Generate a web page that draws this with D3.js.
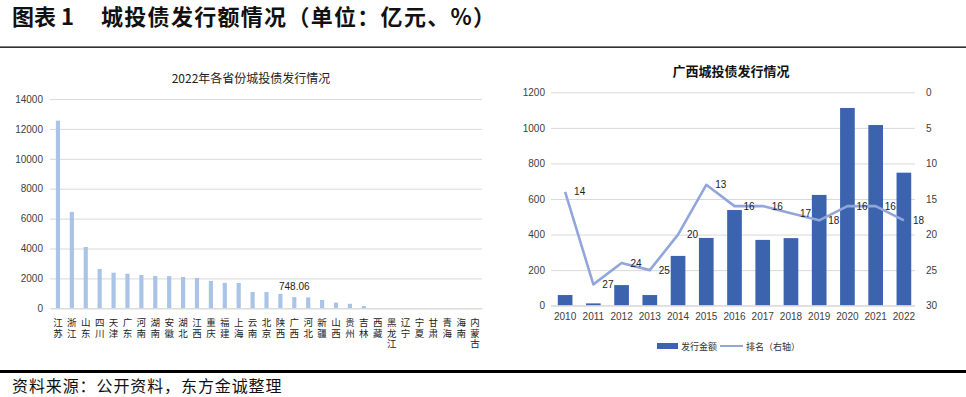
<!DOCTYPE html>
<html><head><meta charset="utf-8">
<script src="https://cdn.jsdelivr.net/npm/d3@7/dist/d3.min.js"></script>
<style>
html,body{margin:0;padding:0;background:#fff;}
svg{display:block;}
text{font-family:"Liberation Sans","Noto Sans CJK SC",sans-serif;}
.cjk{font-family:"Noto Sans CJK SC",sans-serif;}
.vert{writing-mode:vertical-rl;text-orientation:upright;}
</style></head>
<body>
<svg id="c" width="966" height="397"></svg>
<script>
const provinces = ["江苏","浙江","山东","四川","天津","广东","河南","湖南","安徽","湖北","江西","重庆","福建","上海","云南","北京","陕西","广西","河北","新疆","山西","贵州","吉林","西藏","黑龙江","辽宁","宁夏","甘肃","青海","海南","内蒙古"];
const provinceValues = [12550,6450,4100,2630,2380,2315,2230,2160,2150,2095,2030,1830,1700,1690,1090,1085,960,748.06,735,560,380,300,150,0,0,0,0,0,0,0,0];
const provinceTicks = [0,2000,4000,6000,8000,10000,12000,14000];
const labelledProvince = "广西";

const years = ["2010","2011","2012","2013","2014","2015","2016","2017","2018","2019","2020","2021","2022"];
const amounts = [60,13,116,60,280,381,538,370,380,623,1112,1016,748.06];
const ranks = [14,27,24,25,20,13,16,16,17,18,16,16,18];
const amountTicks = [0,200,400,600,800,1000,1200];
const rankTicks = [0,5,10,15,20,25,30];

const svg = d3.select("#c");
const grid = "#d9d9d9", txt = "#404040";
const barLight = "#a9c4e7", barDark = "#3c64ae", lineCol = "#93a6dc";

// Header
svg.append("text").attr("class","cjk").attr("x",12).attr("y",15).attr("dominant-baseline","central")
  .attr("font-size",22).attr("font-weight","bold").attr("fill","#111").text("图表 1");
svg.append("text").attr("class","cjk").attr("x",101).attr("y",15).attr("dominant-baseline","central")
  .attr("font-size",22).attr("font-weight","bold").attr("fill","#111").attr("letter-spacing",1.3)
  .text("城投债发行额情况（单位：亿元、%）");
svg.append("rect").attr("x",0).attr("y",46.5).attr("width",966).attr("height",1.3).attr("fill","#000");
svg.append("rect").attr("x",0).attr("y",370).attr("width",966).attr("height",3).attr("fill","#000");
svg.append("text").attr("class","cjk").attr("x",12).attr("y",385).attr("dominant-baseline","central")
  .attr("font-size",16).attr("fill","#111").attr("letter-spacing",0.9).text("资料来源：公开资料，东方金诚整理");

// ---------- Left chart ----------
const L = {l:51, r:482, t:99, b:308.3};
const xL = d3.scaleBand().domain(provinces).range([L.l, L.r]).paddingInner(0.7).paddingOuter(0.35);
const yL = d3.scaleLinear().domain([0,14000]).range([L.b, L.t]);
const gL = svg.append("g");
svg.append("text").attr("class","cjk").attr("x",251).attr("y",77).attr("text-anchor","middle")
  .attr("dominant-baseline","central").attr("font-size",12).attr("fill","#222").text("2022年各省份城投债发行情况");

const ayL = gL.append("g").attr("transform",`translate(${L.l-1},0)`)
  .call(d3.axisLeft(yL).tickValues(provinceTicks).tickSize(-(L.r-L.l+1)).tickPadding(7).tickFormat(d3.format("d")));
ayL.select(".domain").remove();
ayL.selectAll("line").attr("stroke",grid);
ayL.selectAll("text").attr("font-size",10).attr("fill",txt);

gL.selectAll("rect.bar").data(provinceValues).join("rect").attr("class","bar")
  .attr("x",(d,i)=>xL(provinces[i])).attr("width",xL.bandwidth())
  .attr("y",d=>yL(d)).attr("height",d=>L.b-yL(d)).attr("fill",barLight);

const li = provinces.indexOf(labelledProvince);
gL.append("text").attr("x",xL(labelledProvince)+xL.bandwidth()/2).attr("y",yL(provinceValues[li])-11)
  .attr("text-anchor","middle").attr("dominant-baseline","central").attr("font-size",10).attr("fill","#222")
  .text(d3.format(".2f")(provinceValues[li]));

const axL = gL.append("g").attr("transform",`translate(0,${L.b})`)
  .call(d3.axisBottom(xL).tickSize(0).tickFormat(""));
axL.select(".domain").attr("stroke",grid);
axL.selectAll(".tick").append("text").attr("class","cjk vert")
  .attr("font-size",9.5).attr("fill","#222").attr("letter-spacing",1).attr("text-anchor","start")
  .attr("x",0).attr("y",9.5).text(d=>d);

// ---------- Right chart ----------
const R = {l:551, r:915, t:92.3, b:305.7};
const xR = d3.scaleBand().domain(years).range([R.l, R.r+3]).paddingInner(0.48).paddingOuter(0.24);
const yR = d3.scaleLinear().domain([0,1200]).range([R.b, R.t]);
const yR2 = d3.scaleLinear().domain([0,30]).range([R.t, R.b]);
const gR = svg.append("g");
svg.append("text").attr("class","cjk").attr("x",731).attr("y",70).attr("text-anchor","middle")
  .attr("dominant-baseline","central").attr("font-size",13).attr("font-weight","bold").attr("fill","#111")
  .text("广西城投债发行情况");

const ayR = gR.append("g").attr("transform",`translate(${R.l},0)`)
  .call(d3.axisLeft(yR).tickValues(amountTicks).tickSize(-(R.r-R.l)).tickPadding(6).tickFormat(d3.format("d")));
ayR.select(".domain").remove();
ayR.selectAll("line").attr("stroke",grid);
ayR.selectAll("text").attr("font-size",10).attr("fill",txt);

const ayR2 = gR.append("g").attr("transform",`translate(${R.r},0)`)
  .call(d3.axisRight(yR2).tickValues(rankTicks).tickSize(0).tickPadding(11));
ayR2.select(".domain").remove();
ayR2.selectAll("text").attr("font-size",10).attr("fill",txt);

gR.selectAll("rect.bar").data(amounts).join("rect").attr("class","bar")
  .attr("x",(d,i)=>xR(years[i])).attr("width",xR.bandwidth())
  .attr("y",d=>yR(d)).attr("height",d=>R.b-yR(d)).attr("fill",barDark);

const axR = gR.append("g").attr("transform",`translate(0,${R.b})`)
  .call(d3.axisBottom(xR).tickSize(0).tickPadding(7));
axR.select(".domain").attr("stroke",grid).attr("d",`M${R.l},0H${R.r}`);
axR.selectAll("text").attr("font-size",10).attr("fill",txt);

const cx = (d,i)=>xR(years[i])+xR.bandwidth()/2;
gR.append("path").datum(ranks)
  .attr("d",d3.line().x(cx).y(d=>yR2(d)))
  .attr("fill","none").attr("stroke",lineCol).attr("stroke-width",2.6).attr("stroke-linejoin","round");
gR.selectAll("text.rl").data(ranks).join("text").attr("class","rl")
  .attr("x",(d,i)=>cx(d,i)+9).attr("y",d=>yR2(d)).attr("dominant-baseline","central")
  .attr("font-size",10).attr("fill","#222").text(d=>d);

// legend
const lg = svg.append("g").attr("transform","translate(0,346)");
lg.append("rect").attr("x",657).attr("y",-3).attr("width",21).attr("height",6).attr("fill",barDark);
lg.append("text").attr("class","cjk").attr("x",681).attr("y",0).attr("dominant-baseline","central")
  .attr("font-size",9).attr("fill","#333").text("发行金额");
lg.append("line").attr("x1",720).attr("x2",743).attr("y1",0).attr("y2",0).attr("stroke",lineCol).attr("stroke-width",2);
lg.append("text").attr("class","cjk").attr("x",746).attr("y",0).attr("dominant-baseline","central")
  .attr("font-size",9).attr("fill","#333").text("排名（右轴）");
</script>
</body></html>
